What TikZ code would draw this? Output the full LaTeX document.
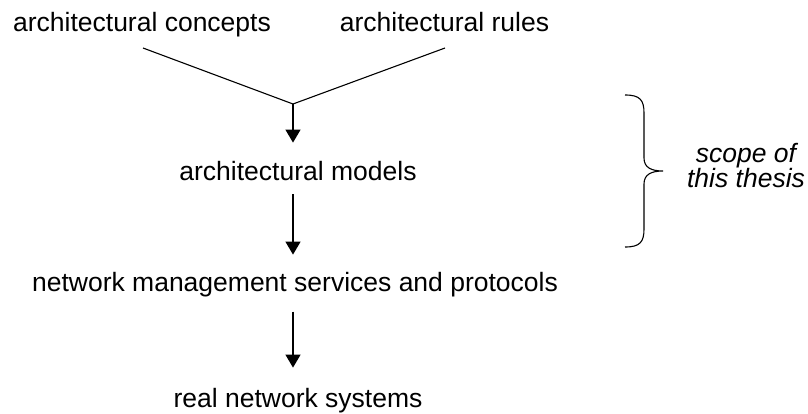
\documentclass[tikz,border=0pt]{standalone}
\usepackage{fontspec}
\setmainfont{Liberation Sans}
\usetikzlibrary{arrows.meta}
\begin{document}
\begin{tikzpicture}[x=1pt,y=-1pt,
  lbl/.style={inner sep=0pt,anchor=base,font=\fontsize{26.5}{25}\selectfont},
  arr/.style={line width=1.3pt,-{Triangle[width=15pt,length=13pt]}},
  ln/.style={line width=1.1pt}]
\useasboundingbox (0,0) rectangle (808,414);
\node[lbl] (concepts) at (142,32) {architectural concepts};
\node[lbl] (rules) at (444.5,32) {architectural rules};
\node[lbl] (models) at (298,181) {architectural models};
\node[lbl] (network) at (295,291) {network management services and protocols};
\node[lbl] (real) at (298,407) {real network systems};
\node[inner sep=0pt,align=center,font=\fontsize{26.5}{25}\selectfont\itshape] (scope) at (746,166) {scope of\\this thesis};
\coordinate (c1) at (143,48);
\coordinate (c2) at (445,48);
\coordinate (j) at (293,104);
\draw[ln] (c1) -- (j) -- (c2);
\draw[arr,shorten >=19pt] (j) -- (models.north -| j);
\draw[arr,shorten <=13pt,shorten >=17pt] (models.south -| j) -- (network.north -| j);
\draw[arr,shorten <=15pt,shorten >=20pt] (network.south -| j) -- (real.north -| j);
\draw[ln] (625,95) .. controls (640,95) and (644,100) .. (644,113) -- (644,158)
  .. controls (644,168) and (652,171) .. (663,171)
  .. controls (652,171) and (644,174) .. (644,184) -- (644,229)
  .. controls (644,242) and (640,247) .. (625,247);
\end{tikzpicture}
\end{document}
